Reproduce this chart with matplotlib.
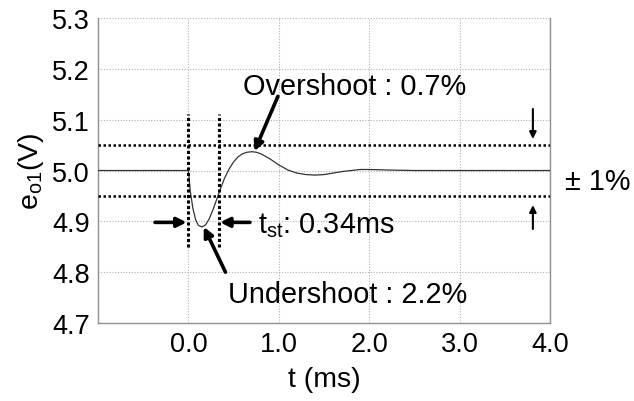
import matplotlib
matplotlib.use('Agg')
import matplotlib.pyplot as plt
import matplotlib.transforms as mtransforms

plt.rcParams['font.family'] = ['Liberation Sans', 'DejaVu Sans']
plt.rcParams['mathtext.fontset'] = 'custom'
plt.rcParams['mathtext.rm'] = 'Liberation Sans'
plt.rcParams['mathtext.it'] = 'Liberation Sans'

# output voltage response (t in ms, volts)
t_ms = [-1.0, 0.0, 0.02, 0.05, 0.08, 0.11, 0.15, 0.19, 0.23, 0.27, 0.31,
        0.35, 0.40, 0.45, 0.50, 0.55, 0.60, 0.65, 0.70, 0.75, 0.80, 0.90,
        1.00, 1.10, 1.20, 1.30, 1.40, 1.50, 1.60, 1.70, 1.80, 1.90, 2.00,
        2.20, 2.50, 4.0]
e_o1 = [5.0, 5.0, 4.96, 4.925, 4.903, 4.892, 4.889, 4.893, 4.905, 4.922, 4.942,
        4.962, 4.985, 5.003, 5.017, 5.027, 5.033, 5.036, 5.037, 5.036, 5.033, 5.023,
        5.011, 5.001, 4.995, 4.992, 4.991, 4.992, 4.995, 4.998, 5.000, 5.002, 5.002,
        5.001, 5.0, 5.0]

band = [4.95, 5.05]          # +-1 % limits
t_marks = [0.0, 0.34]        # settling window
x_ticks = [0.0, 1.0, 2.0, 3.0, 4.0]
x_ticklabels = ['0.0', '1.0', '2.0', '3.0', '4.0']
y_ticks = [4.7, 4.8, 4.9, 5.0, 5.1, 5.2, 5.3]

fig = plt.figure(figsize=(6.34, 4.02), dpi=100)
ax = fig.add_axes([0.1546, 0.194, 0.713, 0.7587])

ax.plot(t_ms, e_o1, color='#333333', lw=0.9, zorder=3)

for b in band:
    ax.axhline(b, color='black', lw=1.8, ls=(0, (1, 1)), zorder=4)
for tm in t_marks:
    ax.plot([tm, tm], [4.849, 5.111], color='black', lw=2.2, ls=(0, (1, 0.8)), zorder=4)

ax.set_xlim(-1.0, 4.0)
ax.set_ylim(4.7, 5.3)
ax.set_xticks(x_ticks)
ax.set_xticklabels(x_ticklabels)
ax.set_yticks(y_ticks)
ax.tick_params(length=0, labelsize=19.5, pad=6)
ax.grid(True, color='#b0b0b0', ls=(0, (1, 1.5)), lw=0.8)
for s in ['left', 'bottom', 'right']:
    ax.spines[s].set_color('#909090')
    ax.spines[s].set_linewidth(1.0)
ax.spines['top'].set_visible(False)

ax.set_xlabel('t (ms)', fontsize=20.5, labelpad=6)
ax.set_ylabel(r'e$_{\mathregular{o1}}$(V)', fontsize=20.5, labelpad=4)

big = dict(arrowstyle='-|>', lw=2.6, color='black', mutation_scale=14, shrinkA=0, shrinkB=0)
ax.annotate('', xy=(0.73, 5.038), xytext=(0.99, 5.146), arrowprops=big)
ax.annotate('', xy=(0.17, 4.889), xytext=(0.41, 4.80), arrowprops=big)
ax.annotate('', xy=(-0.02, 4.898), xytext=(-0.37, 4.898), arrowprops=big)
ax.annotate('', xy=(0.35, 4.898), xytext=(0.68, 4.898), arrowprops=big)

ax.text(0.60, 5.166, 'Overshoot : 0.7%', fontsize=20.8, va='center', ha='left')
ax.text(0.435, 4.757, 'Undershoot : 2.2%', fontsize=20.8, va='center', ha='left')
ax.text(0.77, 4.893, r'$\mathregular{t_{st}}$: 0.34ms', fontsize=20.8, va='center', ha='left')

small = dict(arrowstyle='-|>', lw=1.5, color='black', mutation_scale=10, shrinkA=0, shrinkB=0)
ax.annotate('', xy=(3.81, 5.062), xytext=(3.81, 5.121), arrowprops=small)
ax.annotate('', xy=(3.81, 4.932), xytext=(3.81, 4.885), arrowprops=small)

trans = mtransforms.blended_transform_factory(ax.transAxes, ax.transData)
ax.text(1.033, 4.979, '\u00b1 1%', fontsize=20.8, va='center', ha='left', transform=trans)

fig.savefig('out.png', dpi=100)
